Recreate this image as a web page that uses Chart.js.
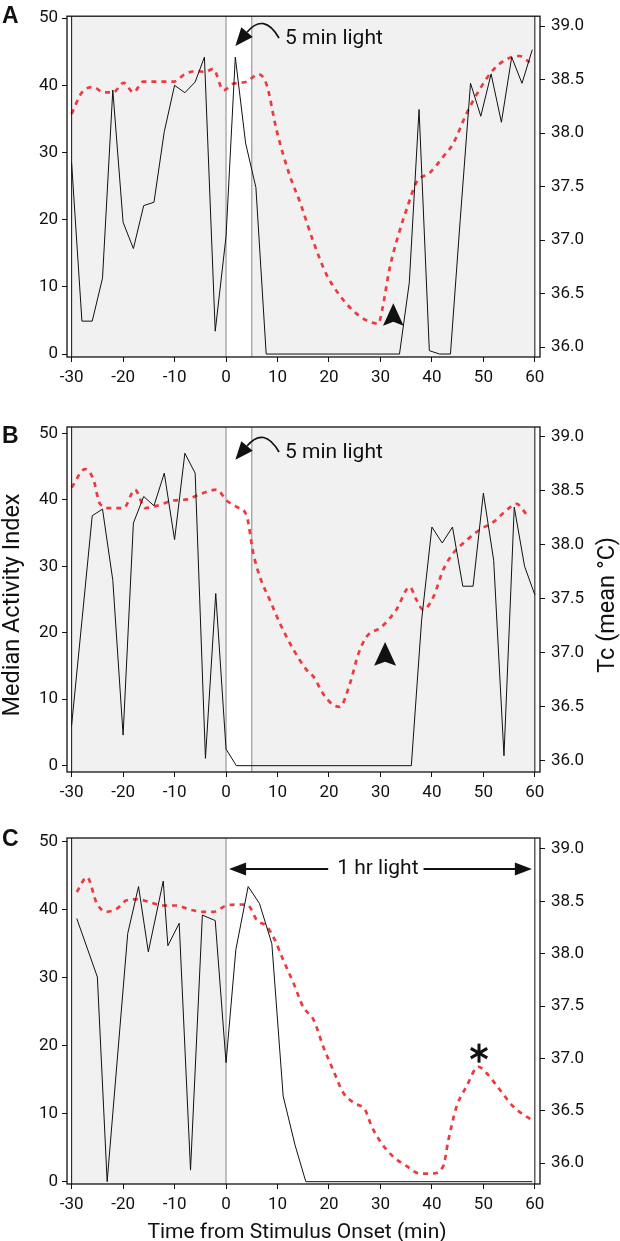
<!DOCTYPE html>
<html lang="en">
<head>
<meta charset="UTF-8">
<title>Activity and core temperature around light pulses</title>
<script src="https://cdn.jsdelivr.net/npm/chart.js"></script>
<style>
  body { margin: 0; background: #fff; }
  .wrap { position: relative; width: 620px; height: 1241px; }
  .wrap canvas { position: absolute; left: 0; }
</style>
</head>
<body>
<div class="wrap">
  <canvas id="chartA" width="620" height="400" style="top:0px"></canvas>
  <canvas id="chartB" width="620" height="420" style="top:400px"></canvas>
  <canvas id="chartC" width="620" height="421" style="top:820px"></canvas>
</div>
<script>
// tick labels
const activityTicks = [0, 10, 20, 30, 40, 50];
const tempTicks = [36.0, 36.5, 37.0, 37.5, 38.0, 38.5, 39.0];
const timeTicks = [-30, -20, -10, 0, 10, 20, 30, 40, 50, 60];

// A - 5 min light
const actTimeA = [-30, -28, -26, -24, -22, -20, -18, -16, -14, -12, -10, -8, -6, -4.2, -2.1, 0, 1.8, 3.8, 5.8, 7.8,
                  33.7, 35.6, 37.5, 39.5, 41.5, 43.6, 45.5, 47.5, 49.5, 51.5, 53.5, 55.5, 57.5, 59.5];
const actA = [28.4, 4.9, 4.9, 11.3, 39.3, 19.6, 15.7, 22.1, 22.6, 33.1, 40.0, 38.9, 40.5, 44.2, 3.4, 17.5, 44.2, 31.4, 24.8, 0,
              0, 10.6, 36.4, 0.5, 0, 0, 20.0, 40.3, 35.4, 41.7, 34.5, 44.2, 40.3, 45.3];
const tempTimeA = [-30, -28, -25.8, -23.8, -21.9, -19.9, -18, -16.1, -14.1, -10.2, -8, -5.7, -4.1, -2.5, -0.5, 1.4, 4, 6.3, 7.9, 9.8,
                   12.4, 14.4, 17, 19.5, 22, 24.7, 27.3, 29.6, 30.3, 31.8, 33.5, 35.1, 37, 39.6, 42.2, 44.1, 46.7, 49.3, 51.9, 54.5, 57, 59];
const tempA = [38.18, 38.38, 38.43, 38.38, 38.38, 38.47, 38.38, 38.48, 38.48, 38.48, 38.55, 38.58, 38.57, 38.60, 38.40, 38.46, 38.48, 38.55, 38.45, 38.03,
               37.60, 37.35, 36.98, 36.68, 36.49, 36.34, 36.25, 36.22, 36.34, 36.74, 37.05, 37.29, 37.54, 37.63, 37.78, 37.90, 38.18, 38.41, 38.59, 38.69, 38.72, 38.66];

// B - 5 min light
const actTimeB = [-30, -28, -26, -24, -22, -20, -18, -16, -14, -12, -10, -8, -6, -4, -2, 0, 2,
                  36, 38, 40, 42, 44, 46, 48, 50, 52, 54, 56, 58, 60];
const actB = [6.1, 21.8, 37.6, 38.6, 27.9, 4.6, 36.5, 40.5, 39.1, 44.0, 34.0, 47.0, 44.0, 1.1, 25.9, 2.5, 0,
              0, 21.9, 35.9, 33.5, 35.9, 27.0, 27.0, 41.0, 30.9, 1.5, 38.9, 30.0, 25.7];
const tempTimeB = [-30, -27.4, -25.8, -24.5, -22.5, -19.9, -17.7, -15.7, -13.5, -10.2, -7.6, -5, -1.8, 0.1, 2.1, 4, 5.3, 6.6, 8.5, 10.5,
                   13.1, 15.7, 17, 18.9, 20.8, 22.1, 24.1, 25.7, 27.3, 30.2, 33.1, 35.7, 37, 38.3, 40.3, 42.2, 44.1, 46.7, 49.3, 51.9, 54.5, 56.4, 58.4];
const tempB = [38.53, 38.70, 38.61, 38.38, 38.34, 38.34, 38.51, 38.34, 38.36, 38.41, 38.42, 38.47, 38.51, 38.41, 38.35, 38.27, 37.92, 37.70, 37.49, 37.27,
               37.03, 36.84, 36.78, 36.62, 36.52, 36.50, 36.72, 36.99, 37.15, 37.24, 37.40, 37.61, 37.49, 37.40, 37.52, 37.77, 37.92, 38.04, 38.14, 38.21, 38.32, 38.38, 38.28];

// C - 1 hr light
const actTimeC = [-29, -25, -23.1, -19.1, -17, -15.1, -12.2, -11.3, -9.1, -6.9, -4.6, -2.1, 0, 1.9, 4.3, 6.5, 8.9, 11.1, 13.4, 15.5, 59.5];
const actC = [38.7, 30.1, 0, 36.5, 43.4, 33.8, 44.2, 34.7, 38.0, 1.7, 39.2, 38.4, 17.5, 34.1, 43.4, 40.9, 35.0, 12.6, 5.4, 0, 0];
const tempTimeC = [-29, -27, -25.1, -23.2, -21.2, -19.3, -17, -14.8, -12.2, -9.6, -7, -4.4, -2.5, 0.1, 2.7, 4.3, 6, 7.9, 9.5, 11.1,
                   13.1, 15, 17, 18.9, 20.8, 22.8, 25, 27, 28.3, 30.2, 32.5, 35.1, 37.7, 40, 42.2, 43.2, 44.8, 46.7, 49, 50.6, 53.2, 55.8, 59.7];
const tempC = [38.59, 38.73, 38.48, 38.40, 38.43, 38.51, 38.52, 38.49, 38.46, 38.46, 38.42, 38.40, 38.40, 38.46, 38.47, 38.46, 38.32, 38.26, 38.13, 37.94,
               37.72, 37.49, 37.37, 37.11, 36.89, 36.67, 36.57, 36.51, 36.35, 36.19, 36.06, 35.97, 35.90, 35.90, 35.97, 36.22, 36.54, 36.73, 36.92, 36.86, 36.70, 36.54, 36.40];

const FONT = 'Roboto, "Open Sans", sans-serif';
const RED = '#ec3b40';
const INK = '#111';

function pts(xs, ys) {
    return xs.map((x, i) => ({ x: x, y: ys[i] }));
}

function line(ctx, x1, y1, x2, y2) {
    ctx.beginPath();
    ctx.moveTo(x1, y1);
    ctx.lineTo(x2, y2);
    ctx.stroke();
}

// filled arrowhead pointing up, with a small notch in the base
function spike(ctx, xs, ys, t, tipT, baseT, half) {
    const px = xs.getPixelForValue(t);
    const tip = ys.getPixelForValue(tipT);
    const base = ys.getPixelForValue(baseT);
    ctx.beginPath();
    ctx.moveTo(px, tip);
    ctx.lineTo(px + half, base);
    ctx.lineTo(px, base - 4);
    ctx.lineTo(px - half, base);
    ctx.closePath();
    ctx.fill();
}

function decor(p) {
    return {
        id: 'decor' + p.letter,
        beforeDatasetsDraw(chart) {
            const { ctx, chartArea: a, scales: { x } } = chart;
            ctx.save();
            ctx.fillStyle = '#f1f1f1';
            p.dark.forEach(r => {
                const x0 = x.getPixelForValue(r[0]), x1 = x.getPixelForValue(r[1]);
                ctx.fillRect(x0, a.top, x1 - x0, a.bottom - a.top);
            });
            ctx.strokeStyle = '#9a9a9a';
            ctx.lineWidth = 1.2;
            p.edges.forEach(t => {
                const px = x.getPixelForValue(t);
                line(ctx, px, a.top, px, a.bottom);
            });
            ctx.restore();
        },
        afterDraw(chart) {
            const { ctx, chartArea: a, scales: { x, y1 } } = chart;
            ctx.save();
            // frame and inner lines at -30 / 60
            ctx.strokeStyle = INK;
            ctx.lineWidth = 1.3;
            ctx.strokeRect(a.left, a.top, a.right - a.left, a.bottom - a.top);
            ctx.lineWidth = 1;
            [-30, 60].forEach(t => {
                const px = x.getPixelForValue(t);
                line(ctx, px, a.top, px, a.bottom);
            });

            // panel letter
            ctx.fillStyle = INK;
            ctx.font = 'bold 23px "Liberation Sans", Arial, sans-serif';
            ctx.textAlign = 'left';
            ctx.textBaseline = 'alphabetic';
            ctx.fillText(p.letter, 2, p.letterY);

            const x0 = x.getPixelForValue(0);
            if (p.pulse) {
                const T = a.top + p.arrowDy;
                ctx.font = '21px ' + FONT;
                ctx.textBaseline = 'middle';
                ctx.fillText('5 min light', x0 + 59, T + 23);
                // curved arrow
                const ex = x0 + 21, ey = T + 16, cx = x0 + 38, cy = T - 4;
                ctx.lineWidth = 1.7;
                ctx.beginPath();
                ctx.moveTo(x0 + 53, T + 22);
                ctx.quadraticCurveTo(cx, cy, ex, ey);
                ctx.stroke();
                let dx = ex - cx, dy = ey - cy;
                const len = Math.hypot(dx, dy);
                dx /= len; dy /= len;
                ctx.beginPath();
                ctx.moveTo(ex + dx * 18, ey + dy * 18);
                ctx.lineTo(ex - dy * 7.5, ey + dx * 7.5);
                ctx.lineTo(ex + dy * 7.5, ey - dx * 7.5);
                ctx.closePath();
                ctx.fill();
            }
            if (p.spike) {
                spike(ctx, x, y1, p.spike[0], p.spike[1], p.spike[2], p.spike[3]);
            }
            if (p.hour) {
                const yA = a.top + 31;
                const xl = x0 + 3, xr = x.getPixelForValue(60) - 3;
                const xm = x.getPixelForValue(29.5);
                ctx.font = '21px ' + FONT;
                ctx.textAlign = 'center';
                ctx.textBaseline = 'middle';
                ctx.fillText('1 hr light', xm, yA);
                const w = ctx.measureText('1 hr light').width;
                ctx.lineWidth = 2;
                line(ctx, xl + 12, yA, xm - w / 2 - 9, yA);
                line(ctx, xm + w / 2 + 5, yA, xr - 12, yA);
                ctx.beginPath();
                ctx.moveTo(xl, yA); ctx.lineTo(xl + 17, yA - 6.5); ctx.lineTo(xl + 17, yA + 6.5);
                ctx.closePath(); ctx.fill();
                ctx.beginPath();
                ctx.moveTo(xr, yA); ctx.lineTo(xr - 17, yA - 6.5); ctx.lineTo(xr - 17, yA + 6.5);
                ctx.closePath(); ctx.fill();
                // asterisk over the temperature rebound
                const sx = x.getPixelForValue(49.15), sy = y1.getPixelForValue(37.05);
                ctx.lineWidth = 3;
                [90, 30, -30].forEach(deg => {
                    const r = deg * Math.PI / 180;
                    line(ctx, sx - 9.5 * Math.cos(r), sy - 9.5 * Math.sin(r), sx + 9.5 * Math.cos(r), sy + 9.5 * Math.sin(r));
                });
                // x axis title
                ctx.font = '21px ' + FONT;
                ctx.textAlign = 'center';
                ctx.textBaseline = 'alphabetic';
                ctx.fillText('Time from Stimulus Onset (min)', 297, 418);
            }
            if (p.titles) {
                ctx.font = '23.5px ' + FONT;
                ctx.textAlign = 'center';
                ctx.textBaseline = 'middle';
                ctx.save();
                ctx.translate(13, 205);
                ctx.rotate(-Math.PI / 2);
                ctx.fillText('Median Activity Index', 0, 0);
                ctx.restore();
                ctx.save();
                ctx.translate(608, 205);
                ctx.rotate(-Math.PI / 2);
                ctx.fillText('Tc (mean °C)', 0, 0);
                ctx.restore();
            }
            ctx.restore();
        }
    };
}

const tickGrid = { drawOnChartArea: false, drawTicks: true, tickLength: 5, color: INK, lineWidth: 1 };
const tickFont = { family: FONT, size: 17 };

function makePanel(id, p) {
    return new Chart(document.getElementById(id), {
        type: 'line',
        data: {
            datasets: [{
                data: pts(p.actTime, p.act),
                yAxisID: 'y',
                borderColor: INK,
                borderWidth: 1,
                pointRadius: 0,
                tension: 0
            }, {
                data: pts(p.tempTime, p.temp),
                yAxisID: 'y1',
                borderColor: RED,
                borderWidth: 2.7,
                borderDash: [5, 5],
                pointRadius: 0,
                cubicInterpolationMode: 'monotone'
            }]
        },
        options: {
            responsive: false,
            animation: false,
            events: [],
            layout: { padding: { top: p.top, left: 0, right: 0, bottom: 0 } },
            plugins: { legend: { display: false }, tooltip: { enabled: false } },
            scales: {
                x: {
                    type: 'linear', min: -30.9, max: 61,
                    afterFit: s => { s.height = p.xh; },
                    afterBuildTicks: s => { s.ticks = timeTicks.map(v => ({ value: v })); },
                    grid: tickGrid, border: { display: false },
                    ticks: { font: tickFont, color: INK, padding: 6, maxRotation: 0, callback: v => String(v) }
                },
                y: {
                    position: 'left', min: p.yMin, max: p.yMax,
                    afterFit: s => { s.width = 67; },
                    afterBuildTicks: s => { s.ticks = activityTicks.map(v => ({ value: v })); },
                    grid: tickGrid, border: { display: false },
                    ticks: { font: tickFont, color: INK, padding: 4, callback: v => String(v) }
                },
                y1: {
                    position: 'right', min: p.tMin, max: p.tMax,
                    afterFit: s => { s.width = 80; },
                    afterBuildTicks: s => { s.ticks = tempTicks.map(v => ({ value: v })); },
                    grid: tickGrid, border: { display: false },
                    ticks: { font: tickFont, color: INK, padding: 6, callback: v => Number(v).toFixed(1) }
                }
            }
        },
        plugins: [decor(p)]
    });
}

makePanel('chartA', {
    letter: 'A', letterY: 23, top: 11, xh: 43,
    yMin: -0.44, yMax: 50.29, tMin: 35.908, tMax: 39.092,
    actTime: actTimeA, act: actA, tempTime: tempTimeA, temp: tempA,
    dark: [[-30, 0], [5, 60]], edges: [0, 5],
    pulse: true, arrowDy: 0, spike: [32.5, 36.41, 36.2, 10.3]
});

makePanel('chartB', {
    letter: 'B', letterY: 43, top: 27, xh: 48,
    yMin: -0.95, yMax: 50.95, tMin: 35.898, tMax: 39.09,
    actTime: actTimeB, act: actB, tempTime: tempTimeB, temp: tempB,
    dark: [[-30, 0], [5, 60]], edges: [0, 5],
    pulse: true, arrowDy: 3, spike: [30.9, 37.1, 36.88, 11], titles: true
});

makePanel('chartC', {
    letter: 'C', letterY: 26, top: 18, xh: 57,
    yMin: -0.34, yMax: 50.54, tMin: 35.80, tMax: 39.105,
    actTime: actTimeC, act: actC, tempTime: tempTimeC, temp: tempC,
    dark: [[-30, 0]], edges: [0],
    hour: true
});
</script>
</body>
</html>
